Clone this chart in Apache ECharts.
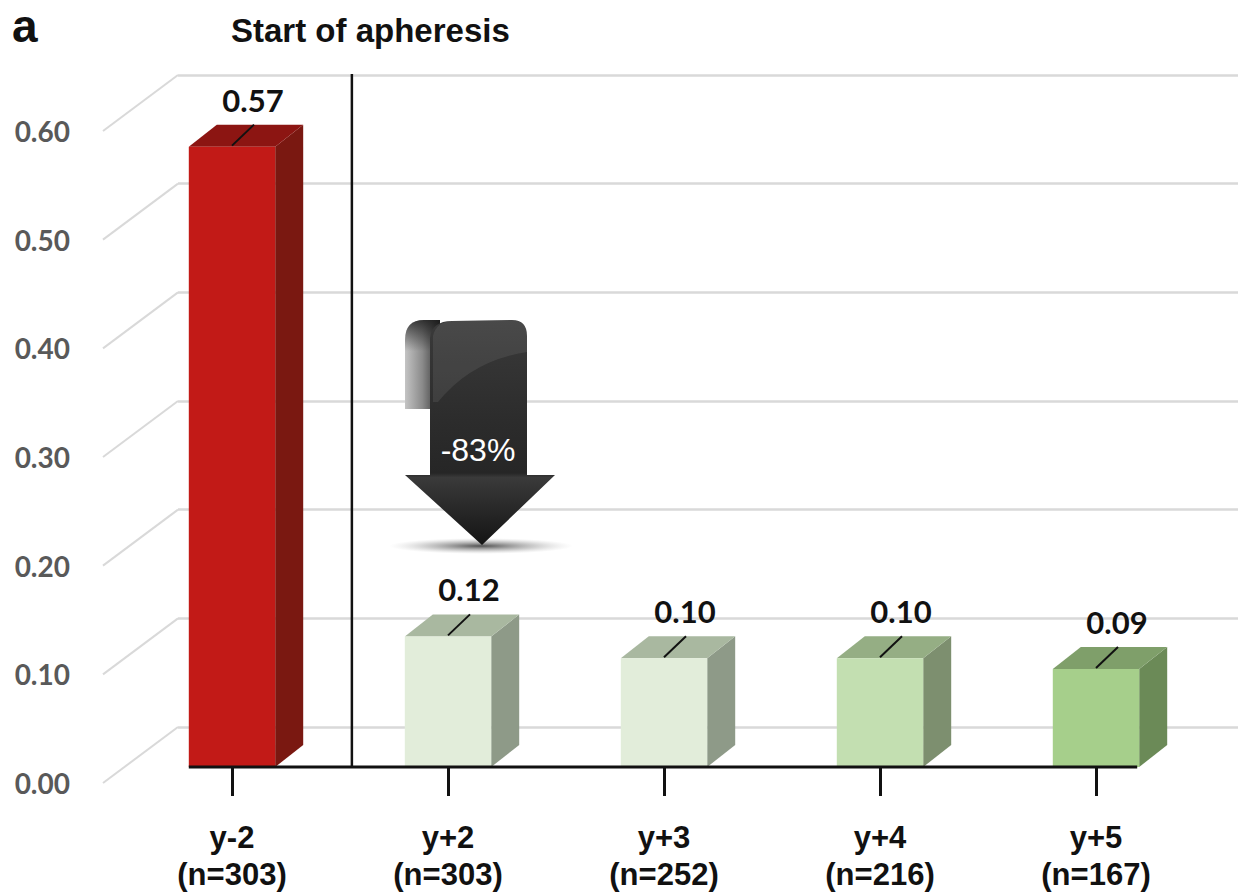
<!DOCTYPE html>
<html>
<head>
<meta charset="utf-8">
<script src="https://cdn.jsdelivr.net/npm/echarts@6/dist/echarts.min.js"></script>
<style>
  html, body { margin: 0; padding: 0; background: #ffffff; }
  #chart { width: 1238px; height: 893px; }
</style>
</head>
<body>
<div id="chart"></div>
<script>
// Annual rate per period, before and after the start of apheresis
const categories = ['y-2', 'y+2', 'y+3', 'y+4', 'y+5'];
const sampleSizes = [303, 303, 252, 216, 167];
const rates = [0.57, 0.12, 0.10, 0.10, 0.09];
const yTicks = [0, 0.1, 0.2, 0.3, 0.4, 0.5, 0.6];
const changeText = '-83%';
const titleText = 'Start of apheresis';
const panelText = 'a';

// Face colours of each 3D bar (front, right side, top)
const palette = [
  { front: '#c21a17', side: '#7a1811', top: '#8c1512' },
  { front: '#e2edda', side: '#8e9a88', top: '#a9b8a0' },
  { front: '#e2edda', side: '#8e9a88', top: '#a9b8a0' },
  { front: '#c3dfb1', side: '#7d8f6f', top: '#95ae84' },
  { front: '#a6cf8b', side: '#6b8a57', top: '#7f9f6a' }
];

const DX = 28, DY = -22;          // bar depth offset
const WALL_DX = 75, WALL_DY = -56; // side wall diagonal
const BAR_RATIO = 0.4;
const LABEL_FONT = 'Lato, "Open Sans", sans-serif';
const TEXT_FONT = '"Liberation Sans", Arial, sans-serif';

function renderBar(params, api) {
  const i = api.value(0);
  const v = api.value(1);
  const base = api.coord([i, 0]);
  const top = api.coord([i, v]);
  const w = api.size([1, 0])[0] * BAR_RATIO;
  const xL = base[0] - w / 2, xR = base[0] + w / 2;
  const yB = base[1], yT = top[1];
  const c = palette[i];
  return {
    type: 'group',
    children: [
      { type: 'polygon', shape: { points: [[xR, yB], [xR + DX, yB + DY], [xR + DX, yT + DY], [xR, yT]] },
        style: { fill: c.side } },
      { type: 'polygon', shape: { points: [[xL, yT], [xR, yT], [xR + DX, yT + DY], [xL + DX, yT + DY]] },
        style: { fill: c.top } },
      { type: 'rect', shape: { x: xL, y: yT, width: w, height: yB - yT }, style: { fill: c.front } },
      { type: 'line', shape: { x1: base[0], y1: yT - 1, x2: base[0] + 22, y2: yT - 22 },
        style: { stroke: '#111', lineWidth: 2 } },
      { type: 'text', x: base[0] + 21, y: yT - 47,
        style: { text: v.toFixed(2), fill: '#111', fontSize: 31, fontWeight: 'bold',
                 fontFamily: LABEL_FONT, align: 'center', verticalAlign: 'middle' } }
    ]
  };
}

// Floor line under the bars and the divider marking the start of apheresis
function renderFrame(params, api) {
  const band = api.size([1, 0])[0];
  const w = band * BAR_RATIO;
  const first = api.coord([0, 0]);
  const last = api.coord([categories.length - 1, 0]);
  const topY = api.coord([0, yTicks[yTicks.length - 1]])[1] - 40;
  const divX = first[0] + band * 0.555;
  return {
    type: 'group',
    children: [
      { type: 'line', shape: { x1: first[0] - w / 2, y1: first[1], x2: last[0] + w / 2 - 2, y2: last[1] },
        style: { stroke: '#111', lineWidth: 3 } },
      { type: 'line', shape: { x1: divX, y1: topY, x2: divX, y2: first[1] },
        style: { stroke: '#111', lineWidth: 2.5 } }
    ]
  };
}

// Ribbon arrow with the relative change between y-2 and y+2
function renderArrow(params, api) {
  return {
    type: 'group',
    children: [
      { type: 'ellipse', shape: { cx: 481, cy: 546, rx: 92, ry: 8 },
        style: { fill: new echarts.graphic.RadialGradient(0.5, 0.5, 0.5, [
          { offset: 0, color: 'rgba(50,50,50,0.85)' }, { offset: 0.6, color: 'rgba(120,120,120,0.35)' },
          { offset: 1, color: 'rgba(180,180,180,0)' }]) } },
      // curled back of the ribbon
      { type: 'path', shape: { pathData: 'M405,409 L405,340 Q405,320 424,320 L440,320 L440,409 Z' },
        style: { fill: new echarts.graphic.LinearGradient(0, 0, 1, 0, [
          { offset: 0, color: '#c4c4c4' }, { offset: 0.5, color: '#8a8a8a' }, { offset: 1, color: '#333' }]) } },
      { type: 'path', shape: { pathData: 'M405,409 L405,340 Q405,320 424,320 L440,320 L440,409 Z' },
        style: { fill: new echarts.graphic.LinearGradient(0, 0, 0, 1, [
          { offset: 0, color: 'rgba(20,20,20,0.75)' }, { offset: 0.35, color: 'rgba(20,20,20,0)' },
          { offset: 1, color: 'rgba(20,20,20,0)' }]) } },
      // shaft and head
      { type: 'path', shape: { pathData: 'M430,475 L430,338 Q432,321 452,321 L512,320 Q527,320 527,336 L527,475 L555,475 L482,545 L405,475 Z' },
        style: { fill: new echarts.graphic.LinearGradient(0, 0, 0, 1, [
          { offset: 0, color: '#3a3a3a' }, { offset: 0.45, color: '#2c2c2c' }, { offset: 0.68, color: '#262626' },
          { offset: 0.7, color: '#3a3a3a' }, { offset: 1, color: '#141414' }]) } },
      // gloss on the upper shaft
      { type: 'path', shape: { pathData: 'M433,336 Q436,322 452,321 L512,320 Q527,320 527,336 L527,352 Q472,360 438,402 L433,402 Z' },
        style: { fill: 'rgba(255,255,255,0.08)' } },
      { type: 'text', x: 478, y: 450,
        style: { text: changeText, fill: '#ffffff', fontSize: 32, fontFamily: TEXT_FONT,
                 align: 'center', verticalAlign: 'middle' } }
    ]
  };
}

// Diagonal gridlines running along the left side wall
function renderWall(params, api) {
  const p = api.coord([0, api.value(1)]);
  return {
    type: 'line',
    shape: { x1: p[0] - WALL_DX, y1: p[1] - WALL_DY, x2: p[0], y2: p[1] },
    style: { stroke: '#d9d9d9', lineWidth: 2 }
  };
}

const chart = echarts.init(document.getElementById('chart'), null, { renderer: 'svg' });

chart.setOption({
  backgroundColor: '#ffffff',
  animation: false,
  title: [
    { text: panelText, left: 12, top: 3, padding: 0,
      textStyle: { fontSize: 46, fontWeight: 'bold', fontFamily: TEXT_FONT, color: '#111' } },
    { text: titleText, left: 231, top: 14, padding: 0,
      textStyle: { fontSize: 33, fontWeight: 'bold', fontFamily: TEXT_FONT, color: '#111' } }
  ],
  grid: [
    // front plane (bars)
    { left: 124, right: 34, top: 114, bottom: 126 },
    // back wall
    { left: 178, right: 0, top: 75, bottom: 166 },
    // tick labels at the front edge of the side wall
    { left: 103, width: 1, top: 131, bottom: 110 }
  ],
  xAxis: [
    { gridIndex: 0, type: 'category', data: categories,
      axisLine: { show: false },
      axisTick: { show: true, alignWithLabel: true, length: 29, lineStyle: { color: '#111', width: 3 } },
      axisLabel: {
        margin: 52, color: '#111', fontSize: 31, fontWeight: 'bold', fontFamily: TEXT_FONT, lineHeight: 37,
        formatter: (val, idx) => val + '\n(n=' + sampleSizes[idx] + ')'
      } },
    { gridIndex: 1, type: 'value', min: 0, max: 1, show: false },
    { gridIndex: 2, type: 'value', min: 0, max: 1, show: false }
  ],
  yAxis: [
    { gridIndex: 0, type: 'value', min: 0, max: 0.6, interval: 0.1, show: false },
    { gridIndex: 1, type: 'value', min: 0, max: 0.6, interval: 0.1,
      axisLine: { show: false }, axisTick: { show: false }, axisLabel: { show: false },
      splitLine: { show: true, lineStyle: { color: '#d9d9d9', width: 2.5 } } },
    { gridIndex: 2, type: 'value', min: 0, max: 0.6, interval: 0.1,
      axisLine: { show: false }, axisTick: { show: false }, splitLine: { show: false },
      axisLabel: { margin: 33, color: '#595959', fontSize: 28, fontWeight: 'bold', fontFamily: LABEL_FONT,
                   formatter: v => v.toFixed(2) } }
  ],
  series: [
    { type: 'custom', xAxisIndex: 1, yAxisIndex: 1, renderItem: renderWall,
      data: yTicks.map(v => [0, v]), encode: { x: 0, y: 1 }, silent: true, z: 1 },
    { type: 'custom', xAxisIndex: 0, yAxisIndex: 0, renderItem: renderBar,
      data: rates.map((v, i) => [i, v]), encode: { x: 0, y: 1 }, z: 3 },
    { type: 'custom', xAxisIndex: 0, yAxisIndex: 0, renderItem: renderFrame,
      data: [[0, 0]], encode: { x: 0, y: 1 }, silent: true, z: 4 },
    { type: 'custom', xAxisIndex: 0, yAxisIndex: 0, renderItem: renderArrow,
      data: [[1, 0]], encode: { x: 0, y: 1 }, silent: true, z: 5 }
  ]
});
</script>
</body>
</html>
